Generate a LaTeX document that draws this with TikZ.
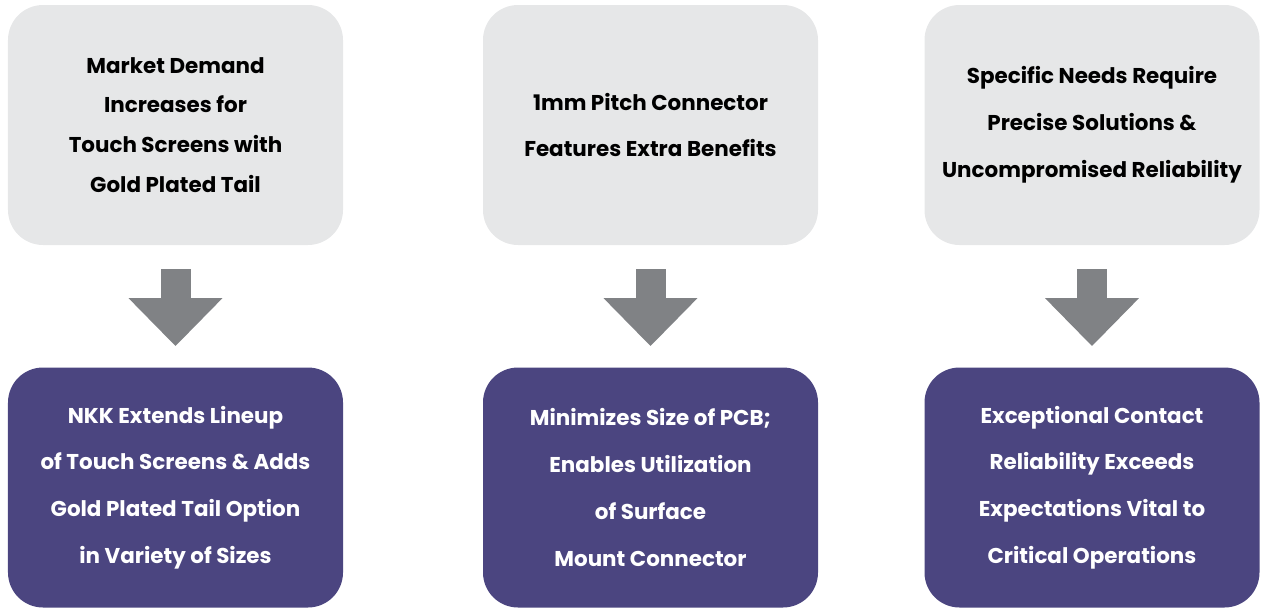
\documentclass[tikz,border=0pt]{standalone}
\usepackage{fontspec}
\setmainfont{Poppins}[UprightFont=* Bold]
\definecolor{boxgray}{HTML}{E6E7E8}
\definecolor{arrowgray}{HTML}{808285}
\definecolor{nkkpurple}{HTML}{4B4580}
\usetikzlibrary{arrows.meta, positioning}

\tikzset{
  needbox/.style={fill=boxgray, rounded corners=0.7cm, minimum width=6.7cm,
    minimum height=4.8cm, align=center, font=\fontsize{12.2}{26.6}\selectfont, text=black},
  answerbox/.style={fill=nkkpurple, rounded corners=0.7cm, minimum width=6.7cm,
    minimum height=4.8cm, align=center, font=\fontsize{12.2}{26.6}\selectfont, text=white},
  downarrow/.style={draw=arrowgray, line width=0.6cm,
    -{Triangle[length=0.96cm, width=1.82cm]}}
}

\begin{document}
\begin{tikzpicture}
  \useasboundingbox (0,0) rectangle (25.3,-12.26);

  % top row: the need
  \node[needbox, font=\fontsize{12.2}{22.7}\selectfont] (need1) at (3.51,-2.5) {Market Demand\\Increases for\\Touch Screens with\\Gold Plated Tail};
  \node[needbox] (need2) at (13.01,-2.5) {1mm Pitch Connector\\Features Extra Benefits};
  \node[needbox] (need3) at (21.84,-2.5) {Specific Needs Require\\Precise Solutions \&\\Uncompromised Reliability};

  % bottom row: the answer
  \node[answerbox] (ans1) at (3.51,-9.75) {NKK Extends Lineup\\of Touch Screens \& Adds\\Gold Plated Tail Option\\in Variety of Sizes};
  \node[answerbox] (ans2) at (13.01,-9.75) {Minimizes Size of PCB;\\Enables Utilization\\of Surface\\Mount Connector};
  \node[answerbox] (ans3) at (21.84,-9.75) {Exceptional Contact\\Reliability Exceeds\\Expectations Vital to\\Critical Operations};

  % arrows
  \foreach \i in {1,2,3}
    \draw[downarrow] ([yshift=-0.48cm]need\i.south) -- ([yshift=0.42cm]ans\i.north);
\end{tikzpicture}
\end{document}
